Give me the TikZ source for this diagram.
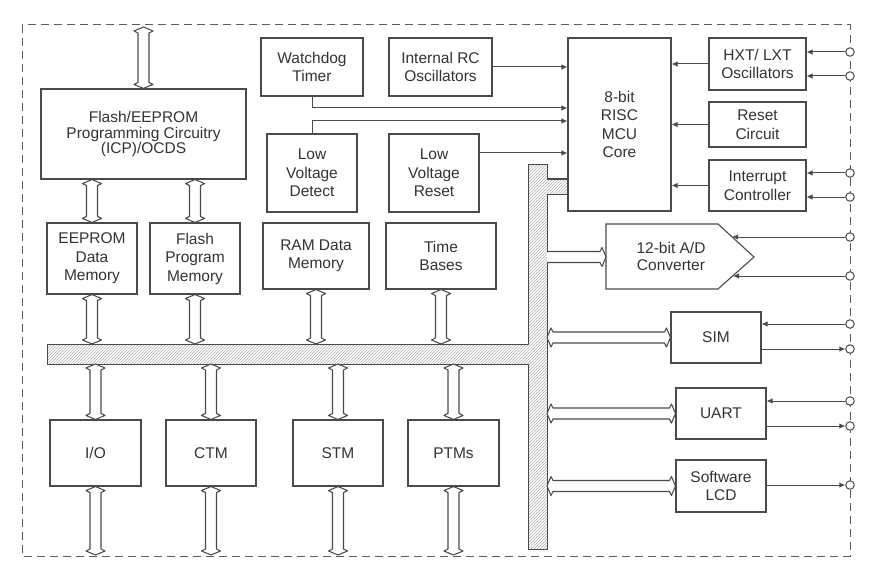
\documentclass[tikz,border=0pt]{standalone}
\usepackage{fontspec}
\setmainfont{Liberation Sans}
\usetikzlibrary{arrows.meta,patterns,calc}
\definecolor{ln}{HTML}{4A4A4A}
\definecolor{tx}{HTML}{333333}
\begin{document}
\begin{tikzpicture}[x=1pt,y=-1pt,
  box/.style={draw=ln, line width=1.1pt, fill=white, align=center, text=tx,
    font=\fontsize{15.5}{18.5}\selectfont, inner sep=0pt},
  txt/.style={align=center, text=tx, font=\fontsize{15.5}{17}\selectfont, inner sep=0pt},
  sig/.style={draw=ln, line width=1pt, -{Latex[length=6pt,width=5.5pt]}},
  dbl/.style={draw=ln, fill=white, line width=1.05pt, line join=round, to path={
    -- ($(\tikztostart)!10.31pt!67.17:(\tikztotarget)$)
    -- ($(\tikztostart)!8.14pt!42.51:(\tikztotarget)$)
    -- ($(\tikztotarget)!8.14pt!-42.51:(\tikztostart)$)
    -- ($(\tikztotarget)!10.31pt!-67.17:(\tikztostart)$)
    -- (\tikztotarget)
    -- ($(\tikztotarget)!10.31pt!67.17:(\tikztostart)$)
    -- ($(\tikztotarget)!8.14pt!42.51:(\tikztostart)$)
    -- ($(\tikztostart)!8.14pt!-42.51:(\tikztotarget)$)
    -- ($(\tikztostart)!10.31pt!-67.17:(\tikztotarget)$)
    -- cycle}},
  dbls/.style={draw=ln, fill=white, line width=1.05pt, line join=round, to path={
    ($(\tikztostart)!5.5pt!90:(\tikztotarget)$)
    -- ($(\tikztotarget)!8.14pt!-42.51:(\tikztostart)$)
    -- ($(\tikztotarget)!10.31pt!-67.17:(\tikztostart)$)
    -- (\tikztotarget)
    -- ($(\tikztotarget)!10.31pt!67.17:(\tikztostart)$)
    -- ($(\tikztotarget)!8.14pt!42.51:(\tikztostart)$)
    -- ($(\tikztostart)!5.5pt!-90:(\tikztotarget)$)}},
  pinc/.style={circle, draw=ln, line width=1pt, fill=white, minimum size=8.5pt, inner sep=0pt},
  border/.style={draw=ln!90, line width=1pt, dash pattern=on 8pt off 5pt},
  busst/.style={draw=ln, line width=1pt, pattern=north east lines, pattern color=gray!60}
]
\useasboundingbox (0,0) rectangle (869,564);
\fill[white] (0,0) rectangle (869,564);

% border
\draw[border] (22,25) rectangle (850,556);

% bus
\draw[busst] (47,344) -- (528,344) -- (528,165) -- (547,165) -- (547,179) -- (568,179)
  -- (568,194) -- (547,194) -- (547,549) -- (528,549) -- (528,364) -- (47,364) -- cycle;

% helper coordinates
\coordinate (top) at (0,27);
\coordinate (bt) at (0,344);
\coordinate (bb) at (0,364);
\coordinate (bot) at (0,555);
\coordinate (vr) at (547,0);
\coordinate (wy) at (0,108);
\coordinate (ly) at (0,121);
\coordinate (lvry) at (0,153);

% boxes
\node[box, minimum width=205, minimum height=90, font=\fontsize{15.5}{15.5}\selectfont] (flash) at (143.5,134) {Flash/EEPROM\\Programming Circuitry\\(ICP)/OCDS};
\node[box, minimum width=102, minimum height=58] (wdt) at (312,67) {Watchdog\\Timer};
\node[box, minimum width=103, minimum height=58] (irc) at (440.5,67) {Internal RC\\Oscillators};
\node[box, minimum width=90, minimum height=78] (lvd) at (312,173) {Low\\Voltage\\Detect};
\node[box, minimum width=90, minimum height=78] (lvr) at (434,173) {Low\\Voltage\\Reset};
\node[box, minimum width=103, minimum height=173] (core) at (619.5,124.5) {8-bit\\RISC\\MCU\\Core};
\node[box, minimum width=97, minimum height=52] (hxt) at (757.5,64) {HXT/ LXT\\Oscillators};
\node[box, minimum width=97, minimum height=45] (rst) at (757.5,124.5) {Reset\\Circuit};
\node[box, minimum width=97, minimum height=51] (intc) at (757.5,185.5) {Interrupt\\Controller};
\node[box, minimum width=90, minimum height=71] (eeprom) at (92,258.5) {EEPROM\\Data\\Memory};
\node[box, minimum width=90, minimum height=71] (fpm) at (195,258.5) {Flash\\Program\\Memory};
\node[box, minimum width=106, minimum height=66] (ram) at (316,256) {RAM Data\\Memory};
\node[box, minimum width=110, minimum height=66] (tb) at (441,256) {Time\\Bases};
\node[box, minimum width=91, minimum height=66] (io) at (95.5,453) {I/O};
\node[box, minimum width=90, minimum height=66] (ctm) at (211,453) {CTM};
\node[box, minimum width=90, minimum height=66] (stm) at (338,453) {STM};
\node[box, minimum width=91, minimum height=66] (ptm) at (453.5,453) {PTMs};
\node[box, minimum width=90, minimum height=51] (sim) at (716,337.5) {SIM};
\node[box, minimum width=90, minimum height=51] (uart) at (721,413.5) {UART};
\node[box, minimum width=90, minimum height=52] (lcd) at (721,486) {Software\\LCD};

% A/D converter
\draw[draw=ln, line width=1.1pt, fill=white] (606,224) -- (718,224) -- (754,257) -- (718,289) -- (606,289) -- cycle;
\node[txt] (adc) at (671,256) {12-bit A/D\\Converter};
\coordinate (adcw) at (606,257);
\coordinate (adcp1) at (732,237);
\coordinate (adcp2) at (733,276);

% pins
\node[pinc] (p1) at (850,52) {};
\node[pinc] (p2) at (850,76) {};
\node[pinc] (p3) at (850,173) {};
\node[pinc] (p4) at (850,197) {};
\node[pinc] (p5) at (850,237) {};
\node[pinc] (p6) at (850,276) {};
\node[pinc] (p7) at (850,324) {};
\node[pinc] (p8) at (850,349) {};
\node[pinc] (p9) at (850,401) {};
\node[pinc] (p10) at (850,426) {};
\node[pinc] (p11) at (850,485) {};

% signal lines into core
\draw[sig] (wdt.south) |- (core.west |- wy);
\draw[sig] (lvd.north) |- (core.west |- ly);
\draw[sig] (irc.east) -- (core.west |- irc.east);
\draw[sig] (lvr.east |- lvry) -- (core.west |- lvry);
\draw[sig] (hxt.west) -- (core.east |- hxt.west);
\draw[sig] (rst.west) -- (core.east |- rst.west);
\draw[sig] (intc.west) -- (core.east |- intc.west);

% pin lines
\draw[sig] (p1) -- (hxt.east |- p1);
\draw[sig] (p2) -- (hxt.east |- p2);
\draw[sig] (p3) -- (intc.east |- p3);
\draw[sig] (p4) -- (intc.east |- p4);
\draw[sig] (p5) -- (adcp1);
\draw[sig] (p6) -- (adcp2);
\draw[sig] (p7) -- (sim.east |- p7);
\draw[sig] (sim.east |- p8) -- (p8);
\draw[sig] (p9) -- (uart.east |- p9);
\draw[sig] (uart.east |- p10) -- (p10);
\draw[sig] (lcd.east |- p11) -- (p11);

% double arrows
\draw[dbl] (flash.north |- top) to (flash.north);
\draw[dbl] (eeprom.north |- flash.south) to (eeprom.north);
\draw[dbl] (fpm.north |- flash.south) to (fpm.north);
\foreach \n in {eeprom,fpm,ram,tb} \draw[dbl] (\n.south) to (\n.south |- bt);
\foreach \n in {io,ctm,stm,ptm} {
  \draw[dbl] (\n.north |- bb) to (\n.north);
  \draw[dbl] (\n.south) to (\n.south |- bot);
}
\draw[dbls] (vr |- adcw) to (adcw);
\draw[dbl] (vr |- sim.west) to (sim.west);
\draw[dbl] (vr |- uart.west) to (uart.west);
\draw[dbl] (vr |- lcd.west) to (lcd.west);
\end{tikzpicture}
\end{document}
